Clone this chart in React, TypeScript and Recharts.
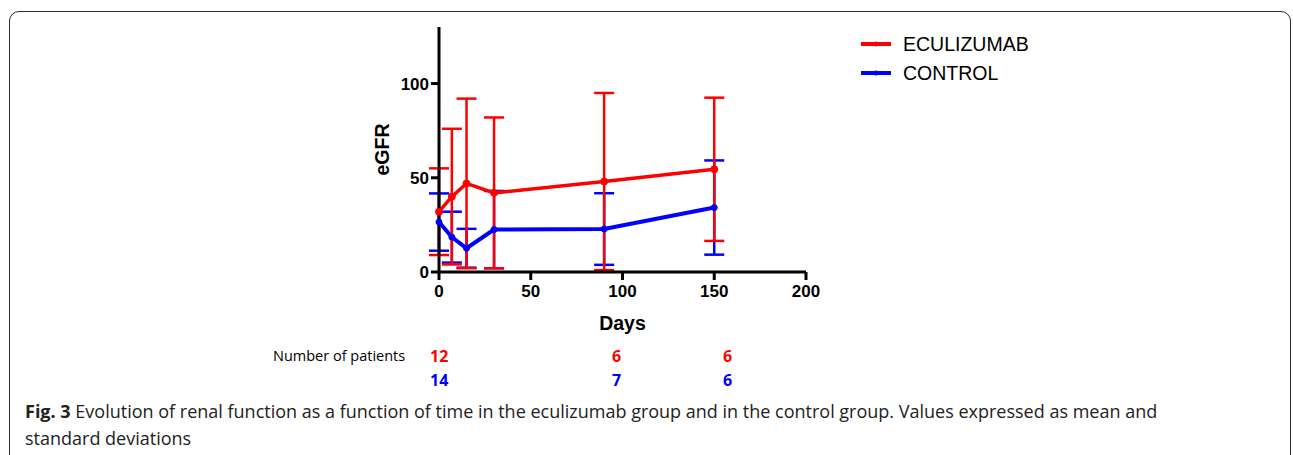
import React from 'react';
import { ComposedChart, Line, XAxis, YAxis, ErrorBar } from 'recharts';

// time points (days) and eGFR values, mean and SD
const days = [0, 7, 15, 30, 90, 150];
const eculizumabMean = [32, 40, 47, 42, 48, 54.5];
const eculizumabSd = [23, 36, 45, 40, 47, 38];
const controlMean = [26.5, 18.5, 12.6, 22.5, 22.8, 34.2];
const controlSd = [15.2, 13.5, 10.3, 20.5, 19, 25];

const xTicks = [0, 50, 100, 150, 200];
const yTicks = [0, 50, 100];

const patientsEcu = ['12', '6', '6'];
const patientsCtl = ['14', '7', '6'];
const patientsLeft = [430, 612, 723];

const RED = '#ff0000';
const BLUE = '#0000ff';

const data = days.map((d, i) => ({
  day: d,
  ecu: eculizumabMean[i],
  ecuErr: eculizumabSd[i],
  ctl: controlMean[i],
  ctlErr: controlSd[i],
}));

const tickStyle = { fontSize: 17, fontWeight: 'bold', fill: '#000', fontFamily: 'Liberation Sans, Arial, sans-serif' };
const axisLabelStyle = { fontSize: 19.5, fontWeight: 'bold', fill: '#000', fontFamily: 'Liberation Sans, Arial, sans-serif' };

const LegendRow = ({ color, label, top }: { color: string; label: string; top: number }) => (
  <div style={{ position: 'absolute', left: 860, top, height: 24, display: 'flex', alignItems: 'center' }}>
    <svg width={32} height={10} style={{ marginRight: 11 }}>
      <line x1={1} y1={5} x2={31} y2={5} stroke={color} strokeWidth={4} />
      <circle cx={16} cy={5} r={2.5} fill={color} />
    </svg>
    <span style={{ fontFamily: 'Liberation Sans, Arial, sans-serif', fontSize: 19.5, color: '#000' }}>{label}</span>
  </div>
);

export default function App() {
  return (
    <div style={{ position: 'fixed', left: 0, top: 0, width: 1293, height: 455, background: '#fff', overflow: 'hidden' }}>
      <div
        style={{
          position: 'absolute',
          left: 9,
          top: 11,
          width: 1282,
          height: 500,
          border: '1.5px solid #2b2b2b',
          borderRadius: 10,
          boxSizing: 'border-box',
        }}
      />
      <div style={{ position: 'absolute', left: 0, top: 0 }}>
        <ComposedChart
          width={1293}
          height={455}
          data={data}
          margin={{ top: 27, left: 379, right: 487, bottom: 123 }}
        >
          <XAxis
            dataKey="day"
            type="number"
            domain={[0, 200]}
            ticks={xTicks}
            height={60}
            tick={tickStyle}
            tickSize={8}
            tickMargin={5}
            axisLine={{ stroke: '#000', strokeWidth: 3 }}
            tickLine={{ stroke: '#000', strokeWidth: 3 }}
            label={{ value: 'Days', position: 'insideBottom', offset: 2, style: axisLabelStyle }}
          />
          <YAxis
            type="number"
            domain={[0, 130]}
            ticks={yTicks}
            width={60}
            tick={tickStyle}
            tickSize={8}
            axisLine={{ stroke: '#000', strokeWidth: 3 }}
            tickLine={{ stroke: '#000', strokeWidth: 3 }}
            label={{ value: 'eGFR', angle: -90, position: 'insideLeft', offset: 3, style: { ...axisLabelStyle, textAnchor: 'middle' } }}
          />
          <Line
            dataKey="ctl"
            stroke={BLUE}
            strokeWidth={4}
            dot={{ r: 3, fill: BLUE, stroke: BLUE, strokeWidth: 1 }}
            isAnimationActive={false}
          >
            <ErrorBar dataKey="ctlErr" direction="y" width={10} stroke={BLUE} strokeWidth={2.5} />
          </Line>
          <Line
            dataKey="ecu"
            stroke={RED}
            strokeWidth={3.5}
            dot={{ r: 3.5, fill: RED, stroke: RED, strokeWidth: 1 }}
            isAnimationActive={false}
          >
            <ErrorBar dataKey="ecuErr" direction="y" width={10} stroke={RED} strokeWidth={2.5} />
          </Line>
        </ComposedChart>
      </div>

      <LegendRow color={RED} label="ECULIZUMAB" top={32} />
      <LegendRow color={BLUE} label="CONTROL" top={61} />

      <div style={{ position: 'absolute', left: 273, top: 346, fontFamily: 'Open Sans, sans-serif', fontSize: 14.5, color: '#000' }}>
        Number of patients
      </div>
      {patientsEcu.map((n, i) => (
        <div
          key={'e' + i}
          style={{ position: 'absolute', left: patientsLeft[i], top: 345, fontFamily: 'Open Sans, sans-serif', fontWeight: 'bold', fontSize: 16, color: RED }}
        >
          {n}
        </div>
      ))}
      {patientsCtl.map((n, i) => (
        <div
          key={'c' + i}
          style={{ position: 'absolute', left: patientsLeft[i], top: 369, fontFamily: 'Open Sans, sans-serif', fontWeight: 'bold', fontSize: 16, color: BLUE }}
        >
          {n}
        </div>
      ))}

      <div
        style={{
          position: 'absolute',
          left: 25,
          top: 398,
          fontFamily: 'Open Sans, sans-serif',
          fontSize: 18,
          lineHeight: '27px',
          color: '#222',
          whiteSpace: 'nowrap',
        }}
      >
        <b>Fig. 3</b> Evolution of renal function as a function of time in the eculizumab group and in the control group. Values expressed as mean and
        <br />
        standard deviations
      </div>
    </div>
  );
}
